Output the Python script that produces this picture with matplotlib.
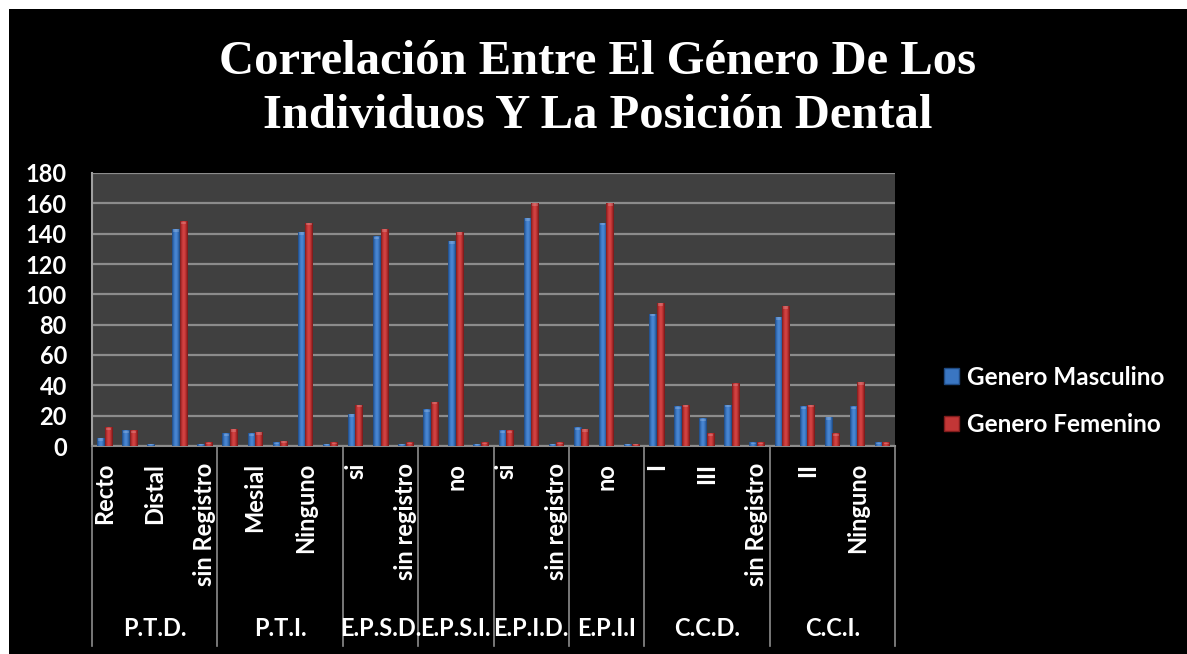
import numpy as np
import matplotlib
matplotlib.use('Agg')
import matplotlib.pyplot as plt
from matplotlib.colors import LinearSegmentedColormap
from matplotlib.patches import Rectangle

# categorias (dos niveles) y valores por genero
grupos = ['P.T.D.', 'P.T.I.', 'E.P.S.D.', 'E.P.S.I.', 'E.P.I.D.', 'E.P.I.I', 'C.C.D.', 'C.C.I.']
posicion = ['Recto', 'Mesial', 'Distal', 'Ninguno', 'sin Registro']
erupcion = ['si', 'no', 'sin registro']
clase = ['I', 'II', 'III', 'Ninguno', 'sin Registro']
subcategorias = [posicion, posicion, erupcion, erupcion, erupcion, erupcion, clase, clase]

masculino = [5, 10, 1, 143, 1, 8, 8, 2, 141, 1,
             21, 138, 1, 24, 135, 1, 10, 150, 1, 12, 147, 1,
             87, 26, 18, 27, 2, 85, 26, 19, 26, 2]
femenino = [12, 10, 0, 148, 2, 11, 9, 3, 147, 2,
            27, 143, 2, 29, 141, 2, 10, 160, 2, 11, 160, 1,
            94, 27, 8, 41, 2, 92, 27, 8, 42, 2]

series = ['Genero Masculino', 'Genero Femenino']

FUENTE = 'Lato'
GRIS = '#8c8c8c'
TAM = 17

# degradados para simular barras cilindricas
cmap_azul = LinearSegmentedColormap.from_list(
    'azul', ['#1f4a82', '#3a76c2', '#4d8ad6', '#3872bc', '#1d467c'])
cmap_rojo = LinearSegmentedColormap.from_list(
    'rojo', ['#7e1c1c', '#c23636', '#d64646', '#b83030', '#721818'])
grad = np.linspace(0, 1, 40).reshape(1, -1)

etiquetas = [s for sub in subcategorias for s in sub]
n = len(etiquetas)
x = np.arange(n)

fig = plt.figure(figsize=(11.87, 6.54), dpi=100)
fig.patch.set_facecolor('white')
fig.add_artist(Rectangle((9 / 1187, 0), 1, 1 - 9 / 654, transform=fig.transFigure,
                         facecolor='black', edgecolor='none', zorder=0))

ax = fig.add_axes([92 / 1187, (654 - 446) / 654, (895 - 92) / 1187, (446 - 173) / 654])
ax.set_facecolor('#404040')

ancho = 0.3
for vals, cm, off in [(masculino, cmap_azul, -ancho / 2), (femenino, cmap_rojo, ancho / 2)]:
    for xi, v in zip(x, vals):
        if v <= 0:
            continue
        x0 = xi + off - ancho / 2
        ax.imshow(grad, cmap=cm, extent=[x0, x0 + ancho, 0, v], aspect='auto',
                  interpolation='bilinear', zorder=3)
        tapa = min(1.6, v * 0.4)
        ax.add_patch(Rectangle((x0 + ancho * 0.15, v - tapa), ancho * 0.7, tapa,
                               facecolor='white', alpha=0.18, edgecolor='none', zorder=4))

ax.set_xlim(-0.5, n - 0.5)
ax.set_ylim(0, 180)
ax.set_yticks(np.arange(0, 181, 20))
ax.yaxis.grid(True, color=GRIS, linewidth=1.6)
ax.set_axisbelow(True)
ax.set_xticks([])
ax.tick_params(axis='y', length=0, pad=18, colors='white')
for lab in ax.get_yticklabels():
    lab.set_fontfamily(FUENTE)
    lab.set_fontweight('bold')
    lab.set_fontsize(TAM)

for lado in ['top', 'right']:
    ax.spines[lado].set_visible(False)
ax.spines['left'].set_color('#a0a0a0')
ax.spines['left'].set_linewidth(1.5)
ax.spines['bottom'].set_color(GRIS)
ax.spines['bottom'].set_linewidth(1.5)

# etiquetas de subcategoria (una de cada dos)
trans = ax.get_xaxis_transform()
for i in range(0, n, 2):
    ax.text(x[i], -0.062, etiquetas[i], transform=trans, rotation=90, ha='center', va='top',
            color='white', fontsize=TAM, fontweight='bold', fontfamily=FUENTE)

# separadores y nombres de grupo
inicio = 0
limites = [-0.5]
for g, sub in zip(grupos, subcategorias):
    fin = inicio + len(sub)
    ax.text((inicio + fin - 1) / 2, -0.668, g, transform=trans, ha='center', va='center',
            color='white', fontsize=TAM, fontweight='bold', fontfamily=FUENTE)
    limites.append(fin - 0.5)
    inicio = fin
for b in limites:
    ax.plot([b, b], [0, -0.733], transform=trans, color=GRIS, linewidth=1.2, clip_on=False)

fig.text(598 / 1187, 1 - 89 / 654, 'Correlación Entre El Género De Los\nIndividuos Y La Posición Dental',
         ha='center', va='center', color='white', fontsize=35, fontweight='bold',
         fontfamily='Liberation Serif', linespacing=1.3)

manejadores = [Rectangle((0, 0), 1, 1, facecolor='#3a76c2', edgecolor='#1f4a82'),
               Rectangle((0, 0), 1, 1, facecolor='#c23636', edgecolor='#7e1c1c')]
ley = fig.legend(manejadores, series, loc='center left',
                 bbox_to_anchor=(922 / 1187, 1 - 401 / 654), frameon=False,
                 handlelength=0.62, handleheight=0.62, handletextpad=0.35, labelspacing=1.0,
                 prop={'family': FUENTE, 'weight': 'bold', 'size': 17.5})
for t in ley.get_texts():
    t.set_color('white')

fig.savefig('out.png', dpi=100, facecolor=fig.get_facecolor())
